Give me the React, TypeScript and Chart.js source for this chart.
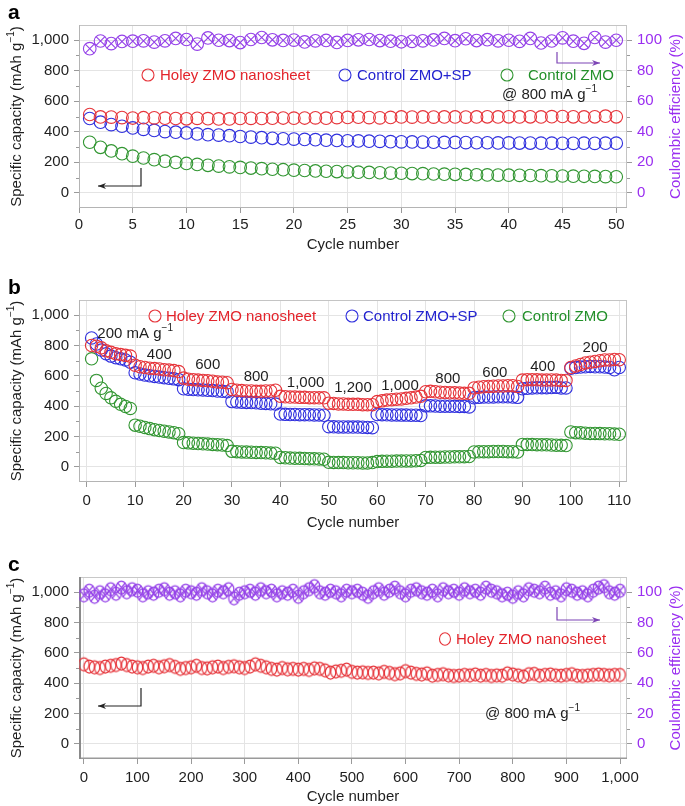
import React, { useEffect, useRef } from 'react';
import { Chart, registerables } from 'chart.js';

Chart.register(...registerables);

const FONT = '"Liberation Sans", Arial, Helvetica, sans-serif';

// ---------------- Panel a: cycling at 800 mA g-1, cycles 1..50 ----------------
const A_HOLEY = [513, 497, 496, 493, 490, 492, 491, 489, 487, 485, 488, 486, 484, 484, 487, 488, 487, 489, 490, 489, 490, 491, 489, 493, 494, 495, 493, 491, 494, 497, 496, 497, 496, 497, 497, 496, 497, 498, 497, 498, 497, 498, 497, 499, 500, 498, 497, 498, 502, 498];
const A_SP = [487, 463, 447, 436, 425, 416, 409, 401, 397, 392, 386, 381, 378, 374, 369, 365, 361, 357, 354, 352, 350, 348, 345, 343, 341, 340, 338, 337, 335, 334, 333, 332, 331, 330, 330, 329, 328, 328, 327, 327, 326, 326, 325, 325, 324, 324, 325, 324, 325, 325];
const A_ZMO = [331, 298, 274, 256, 240, 228, 217, 207, 199, 192, 186, 180, 175, 170, 166, 162, 158, 154, 151, 148, 146, 143, 141, 139, 137, 135, 133, 131, 129, 128, 126, 125, 123, 122, 121, 120, 118, 117, 116, 115, 114, 113, 112, 111, 110, 109, 108, 107, 106, 105];
const A_CE = [94.5, 99.5, 97.8, 99.2, 99.4, 99.6, 98.8, 99.6, 101.2, 100.5, 97.5, 101.5, 100.0, 99.8, 98.5, 100.5, 101.8, 100.3, 99.9, 100.1, 98.9, 99.6, 99.9, 98.6, 99.9, 100.3, 100.5, 99.8, 99.4, 99.0, 99.3, 99.6, 100.2, 101.2, 99.7, 101.0, 99.8, 100.4, 99.6, 100.0, 99.3, 101.2, 98.2, 99.5, 101.6, 99.4, 98.0, 101.8, 98.8, 100.0];
const A_X_TICKS = [0, 5, 10, 15, 20, 25, 30, 35, 40, 45, 50];

// ---------------- Panel b: rate capability, cycles 1..110 ----------------
const B_HOLEY = [
  800, 795, 785, 765, 755, 745, 740, 735, 730,
  670, 660, 655, 650, 648, 645, 640, 638, 635, 628,
  585, 578, 575, 572, 570, 568, 565, 560, 558, 555,
  510, 505, 503, 500, 500, 498, 498, 500, 500, 505,
  465, 462, 460, 460, 458, 458, 456, 456, 455, 455,
  420, 418, 415, 415, 412, 412, 412, 410, 410, 410,
  430, 435, 440, 443, 446, 448, 452, 455, 460, 465,
  495, 498, 495, 492, 490, 488, 488, 486, 485, 485,
  520, 525, 528, 530, 532, 533, 533, 535, 535, 530,
  572, 575, 575, 574, 572, 572, 573, 572, 570, 570,
  655, 665, 675, 685, 690, 695, 700, 705, 705, 708, 706,
];
const B_SP = [
  850, 810, 770, 745, 730, 720, 712, 705, 690,
  620, 612, 605, 600, 596, 592, 588, 584, 580, 575,
  515, 512, 510, 508, 507, 505, 503, 500, 498, 495,
  430, 428, 426, 425, 424, 422, 420, 418, 416, 414,
  348, 346, 345, 345, 344, 344, 343, 342, 342, 340,
  265, 264, 263, 263, 262, 262, 262, 261, 260, 258,
  345, 344, 343, 342, 342, 341, 341, 340, 340, 338,
  402, 402, 401, 400, 400, 400, 399, 398, 398, 395,
  455, 458, 460, 460, 461, 462, 462, 462, 460, 458,
  515, 518, 520, 521, 522, 522, 523, 524, 520, 520,
  650, 655, 658, 660, 662, 660, 660, 658, 655, 640, 655,
];
const B_ZMO = [
  712, 570, 518, 484, 455, 432, 412, 398, 385,
  275, 268, 260, 252, 245, 240, 235, 230, 225, 218,
  160, 158, 156, 154, 152, 150, 148, 146, 144, 140,
  102, 100, 98, 97, 96, 95, 94, 93, 91, 90,
  62, 60, 58, 57, 56, 55, 54, 53, 52, 50,
  30, 29, 28, 28, 27, 27, 27, 26, 26, 28,
  35, 36, 37, 37, 38, 38, 39, 39, 40, 42,
  62, 63, 64, 64, 65, 65, 66, 66, 67, 68,
  98, 99, 100, 100, 101, 101, 101, 100, 100, 98,
  148, 148, 147, 146, 145, 145, 144, 143, 142, 140,
  230, 225, 224, 222, 220, 220, 219, 218, 218, 216, 215,
];
const B_X_TICKS = [0, 10, 20, 30, 40, 50, 60, 70, 80, 90, 100, 110];
const B_RATE_TEXT = ['200', '400', '600', '800', '1,000', '1,200', '1,000', '800', '600', '400', '200'];

// ---------------- Panel c: long cycling, every 10th cycle 0..1000 ----------------
const C_STEP = 10;
const C_HOLEY = [
  525, 510, 505, 500, 510, 515, 520, 530, 520, 510,
  505, 500, 510, 515, 505, 512, 520, 508, 495, 500,
  505, 515, 500, 498, 505, 510, 500, 508, 512, 505,
  500, 510, 525, 515, 505, 495, 490, 500, 492, 495,
  490, 495, 488, 498, 495, 485, 470, 478, 482, 490,
  475, 470, 472, 468, 470, 465, 475, 468, 460, 465,
  480, 470, 462, 458, 465, 450, 455, 460, 452, 448,
  450, 455, 452, 458, 450, 455, 448, 452, 450, 465,
  458, 452, 445, 460, 462, 450, 455, 458, 452, 450,
  455, 460, 450, 448, 452, 455, 458, 455, 452, 455,
  455,
];
const C_CE = [
  98, 101, 97, 100, 98, 102, 99, 103, 100, 102,
  101, 98, 100, 99, 101, 102, 99, 100, 98, 101,
  100, 99, 102, 100, 98, 101, 100, 102, 96, 99,
  100, 101, 99, 102, 100, 101, 98, 100, 99, 101,
  97, 100, 102, 104, 100, 99, 101, 100, 98, 101,
  100, 101, 99, 97, 100, 102, 99, 101, 103, 100,
  98, 101, 102, 100, 99, 101, 98, 102, 100, 101,
  99, 102, 100, 101, 99, 103, 101, 100, 98, 99,
  97, 100, 98, 102, 101, 100, 103, 99, 100, 98,
  102, 101, 99, 100, 98, 101, 103, 104, 100, 99,
  101,
];
const C_X_TICKS = [0, 100, 200, 300, 400, 500, 600, 700, 800, 900, 1000];

const CAP_TICKS = [0, 200, 400, 600, 800, 1000];
const CAP_MINOR = [100, 300, 500, 700, 900];
const CE_TICKS = [0, 20, 40, 60, 80, 100];
const CE_MINOR = [10, 30, 50, 70, 90];

const SERIES_NAMES = ['Holey ZMO nanosheet', 'Control ZMO+SP', 'Control ZMO'];

// ---------------- styles ----------------
const RED = '#e6343a';
const RED_T = '#e3242b';
const BLUE = '#3030de';
const BLUE_T = '#2323cf';
const GREEN = '#329632';
const GREEN_T = '#23902a';
const PURPLE = '#9440e8';
const PURPLE_T = '#9a2ef0';
const PURPLE_ARROW = '#7d45b5';
const TXT = '#1e1e1e';
const GRID = '#e4e4e4';
const TICKC = '#9a9a9a';

type Rich = { t: string; sup?: boolean };

function drawRich(ctx: CanvasRenderingContext2D, parts: Rich[], x: number, y: number, size: number, color: string, align: 'left' | 'center' | 'right', weight = 'normal') {
  const supSize = Math.round(size * 0.68);
  const widths = parts.map((p) => {
    ctx.font = `${weight} ${p.sup ? supSize : size}px ${FONT}`;
    return ctx.measureText(p.t).width;
  });
  const total = widths.reduce((a, b) => a + b, 0);
  let cx = align === 'left' ? x : align === 'center' ? x - total / 2 : x - total;
  ctx.fillStyle = color;
  ctx.textBaseline = 'middle';
  ctx.textAlign = 'left';
  parts.forEach((p, i) => {
    ctx.font = `${weight} ${p.sup ? supSize : size}px ${FONT}`;
    ctx.fillText(p.t, cx, p.sup ? y - size * 0.36 : y);
    cx += widths[i];
  });
}

function drawArrow(ctx: CanvasRenderingContext2D, pts: number[][], color: string) {
  ctx.save();
  ctx.strokeStyle = color;
  ctx.fillStyle = color;
  ctx.lineWidth = 1.2;
  ctx.beginPath();
  ctx.moveTo(pts[0][0], pts[0][1]);
  for (let i = 1; i < pts.length; i++) ctx.lineTo(pts[i][0], pts[i][1]);
  ctx.stroke();
  const [x1, y1] = pts[pts.length - 2];
  const [x2, y2] = pts[pts.length - 1];
  const a = Math.atan2(y2 - y1, x2 - x1);
  const L = 8, W = 3;
  ctx.beginPath();
  ctx.moveTo(x2, y2);
  ctx.lineTo(x2 - L * Math.cos(a) + W * Math.sin(a), y2 - L * Math.sin(a) - W * Math.cos(a));
  ctx.lineTo(x2 - L * 0.7 * Math.cos(a), y2 - L * 0.7 * Math.sin(a));
  ctx.lineTo(x2 - L * Math.cos(a) - W * Math.sin(a), y2 - L * Math.sin(a) + W * Math.cos(a));
  ctx.closePath();
  ctx.fill();
  ctx.restore();
}

function makeMarker(w: number, h: number, color: string, cross: boolean): HTMLCanvasElement {
  const c = document.createElement('canvas');
  c.width = Math.ceil(w) + 4;
  c.height = Math.ceil(h) + 4;
  const g = c.getContext('2d')!;
  const cx = c.width / 2, cy = c.height / 2;
  g.strokeStyle = color;
  g.lineWidth = 1.25;
  g.beginPath();
  g.ellipse(cx, cy, w / 2, h / 2, 0, 0, Math.PI * 2);
  g.stroke();
  if (cross) {
    const k = Math.SQRT1_2;
    g.beginPath();
    g.moveTo(cx - (w / 2) * k, cy - (h / 2) * k);
    g.lineTo(cx + (w / 2) * k, cy + (h / 2) * k);
    g.moveTo(cx + (w / 2) * k, cy - (h / 2) * k);
    g.lineTo(cx - (w / 2) * k, cy + (h / 2) * k);
    g.stroke();
  }
  return c;
}

interface LegendItem { cx: number; cy: number; color: string; text: string; tx: number; textColor: string; w?: number; h?: number }
interface Note { parts: Rich[]; x: number; y: number; align: 'left' | 'center' | 'right'; data?: boolean }
interface Overlay {
  letter: string; letterY: number;
  leftTitleX: number;
  rightTitleX?: number;
  frameColor: string; leftColor: string; leftWidth: number; bottomColor: string; bottomWidth: number;
  rightMinor: boolean;
  legend: LegendItem[];
  notes: Note[];
  arrows: { pts: number[][]; color: string }[];
}

function makeOverlay(o: Overlay) {
  return {
    id: 'overlay' + o.letter,
    beforeDatasetsDraw(chart: any) {
      const { ctx, chartArea: ca } = chart;
      ctx.save();
      ctx.lineWidth = 1;
      ctx.strokeStyle = o.frameColor;
      ctx.beginPath();
      ctx.moveTo(ca.left, ca.top + 0.5); ctx.lineTo(ca.right, ca.top + 0.5);
      ctx.moveTo(ca.right - 0.5, ca.top); ctx.lineTo(ca.right - 0.5, ca.bottom);
      ctx.stroke();
      ctx.strokeStyle = o.bottomColor; ctx.lineWidth = o.bottomWidth;
      ctx.beginPath();
      ctx.moveTo(ca.left, ca.bottom - o.bottomWidth / 2); ctx.lineTo(ca.right, ca.bottom - o.bottomWidth / 2);
      ctx.stroke();
      ctx.strokeStyle = o.leftColor; ctx.lineWidth = o.leftWidth;
      ctx.beginPath();
      ctx.moveTo(ca.left + o.leftWidth / 2, ca.top); ctx.lineTo(ca.left + o.leftWidth / 2, ca.bottom);
      ctx.stroke();
      ctx.strokeStyle = TICKC; ctx.lineWidth = 1;
      ctx.beginPath();
      const y = chart.scales.y;
      CAP_MINOR.forEach((v) => {
        const p = Math.round(y.getPixelForValue(v)) + 0.5;
        ctx.moveTo(ca.left - 3, p); ctx.lineTo(ca.left, p);
      });
      if (o.rightMinor && chart.scales.y1) {
        const y1 = chart.scales.y1;
        CE_MINOR.forEach((v) => {
          const p = Math.round(y1.getPixelForValue(v)) + 0.5;
          ctx.moveTo(ca.right, p); ctx.lineTo(ca.right + 3, p);
        });
      }
      ctx.stroke();
      ctx.restore();
    },
    afterDraw(chart: any) {
      const { ctx, chartArea: ca } = chart;
      ctx.save();
      drawRich(ctx, [{ t: o.letter }], 8, o.letterY, 21, '#000', 'left', 'bold');
      const midY = (ca.top + ca.bottom) / 2;
      ctx.save();
      ctx.translate(o.leftTitleX, midY);
      ctx.rotate(-Math.PI / 2);
      drawRich(ctx, [{ t: 'Specific capacity (mAh g' }, { t: '−1', sup: true }, { t: ')' }], 0, 0, 15, TXT, 'center');
      ctx.restore();
      if (o.rightTitleX !== undefined) {
        ctx.save();
        ctx.translate(o.rightTitleX, midY);
        ctx.rotate(-Math.PI / 2);
        drawRich(ctx, [{ t: 'Coulombic efficiency (%)' }], 0, 0, 15, PURPLE_T, 'center');
        ctx.restore();
      }
      o.legend.forEach((l) => {
        ctx.strokeStyle = l.color;
        ctx.lineWidth = 1.1;
        ctx.beginPath();
        ctx.ellipse(l.cx, l.cy, (l.w ?? 12) / 2, (l.h ?? 12) / 2, 0, 0, Math.PI * 2);
        ctx.stroke();
        drawRich(ctx, [{ t: l.text }], l.tx, l.cy + 1, 15, l.textColor, 'left');
      });
      o.notes.forEach((n) => {
        let x = n.x, yy = n.y;
        if (n.data) {
          x = chart.scales.x.getPixelForValue(n.x);
          yy = chart.scales.y.getPixelForValue(n.y);
        }
        drawRich(ctx, n.parts, x, yy, 15, TXT, n.align);
      });
      o.arrows.forEach((a) => drawArrow(ctx, a.pts, a.color));
      ctx.restore();
    },
  };
}

function capAxis(width: number) {
  return {
    type: 'linear', position: 'left', min: -100, max: 1100,
    afterBuildTicks: (s: any) => { s.ticks = CAP_TICKS.map((v) => ({ value: v })); },
    afterFit: (s: any) => { s.width = width; },
    grid: { color: GRID, tickColor: TICKC, tickLength: 5, lineWidth: 1 },
    border: { display: false },
    ticks: { color: TXT, font: { size: 15, family: FONT }, padding: 5, callback: (v: number) => v.toLocaleString('en-US') },
  };
}

function ceAxis(width: number) {
  return {
    type: 'linear', position: 'right', min: -10, max: 110,
    afterBuildTicks: (s: any) => { s.ticks = CE_TICKS.map((v) => ({ value: v })); },
    afterFit: (s: any) => { s.width = width; },
    grid: { drawOnChartArea: false, tickColor: TICKC, tickLength: 5 },
    border: { display: false },
    ticks: { color: PURPLE_T, font: { size: 15, family: FONT }, padding: 5 },
  };
}

function xAxis(min: number, max: number, tickVals: number[], height: number, labelPad: number, titlePad: number) {
  return {
    type: 'linear', position: 'bottom', min, max,
    afterBuildTicks: (s: any) => { s.ticks = tickVals.map((v) => ({ value: v })); },
    afterFit: (s: any) => { s.height = height; },
    grid: { color: GRID, tickColor: TICKC, tickLength: 5, lineWidth: 1 },
    border: { display: false },
    ticks: { color: TXT, font: { size: 15, family: FONT }, padding: labelPad, maxRotation: 0, autoSkip: false, callback: (v: number) => v.toLocaleString('en-US') },
    title: { display: true, text: 'Cycle number', color: TXT, font: { size: 15, family: FONT }, padding: { top: 0, bottom: titlePad } },
  };
}

function circleSet(label: string, values: number[], xOf: (i: number) => number, color: string, radius: number, style: any = 'circle', axis = 'y') {
  return {
    label,
    data: values.map((v, i) => ({ x: xOf(i), y: v })),
    yAxisID: axis,
    showLine: false,
    pointStyle: style,
    pointRadius: radius,
    pointBorderWidth: 1.1,
    pointBorderColor: color,
    pointBackgroundColor: 'rgba(0,0,0,0)',
    borderColor: color,
    backgroundColor: 'rgba(0,0,0,0)',
  };
}

const commonOpts = {
  responsive: false,
  animation: false,
  events: [],
  plugins: { legend: { display: false }, tooltip: { enabled: false } },
};

function configA(): any {
  const xi = (i: number) => i + 1;
  const R = 6.3;
  return {
    type: 'scatter',
    data: {
      datasets: [
        circleSet('CE', A_CE, xi, PURPLE, R, 'circle', 'y1'),
        circleSet('CE', A_CE, xi, PURPLE, R, 'crossRot', 'y1'),
        circleSet(SERIES_NAMES[0], A_HOLEY, xi, RED, R),
        circleSet(SERIES_NAMES[1], A_SP, xi, BLUE, R),
        circleSet(SERIES_NAMES[2], A_ZMO, xi, GREEN, R),
      ],
    },
    options: {
      ...commonOpts,
      layout: { padding: { top: 25, left: 0, right: 0, bottom: 0 } },
      scales: { x: xAxis(0, 51, A_X_TICKS, 54, 3, 8), y: capAxis(79), y1: ceAxis(58) },
    },
    plugins: [makeOverlay({
      letter: 'a', letterY: 13, leftTitleX: 17, rightTitleX: 676,
      frameColor: '#c4c4c4', leftColor: '#b4b4b4', leftWidth: 1, bottomColor: '#b4b4b4', bottomWidth: 1, rightMinor: true,
      legend: [
        { cx: 148, cy: 75, color: RED, text: SERIES_NAMES[0], tx: 160, textColor: RED_T },
        { cx: 345, cy: 75, color: BLUE, text: SERIES_NAMES[1], tx: 357, textColor: BLUE_T },
        { cx: 507, cy: 75, color: GREEN, text: SERIES_NAMES[2], tx: 528, textColor: GREEN_T },
      ],
      notes: [{ parts: [{ t: '@ 800 mA g' }, { t: '−1', sup: true }], x: 502, y: 95, align: 'left' }],
      arrows: [
        { pts: [[141, 168], [141, 186], [98, 186]], color: '#222' },
        { pts: [[557, 52], [557, 63], [600, 63]], color: PURPLE_ARROW },
      ],
    })],
  };
}

function configB(): any {
  const xi = (i: number) => i + 1;
  const R = 6.2;
  const rateAt = [[10, 880], [15, 737], [25, 671], [35, 592], [45.2, 553], [55, 520], [64.7, 533], [74.6, 579], [84.3, 618], [94.2, 658], [105, 783]];
  const notes: Note[] = B_RATE_TEXT.map((t, i) => ({
    parts: i === 0 ? [{ t: t + ' mA g' }, { t: '−1', sup: true }] : [{ t }],
    x: rateAt[i][0], y: rateAt[i][1], align: 'center', data: true,
  }));
  return {
    type: 'scatter',
    data: {
      datasets: [
        circleSet(SERIES_NAMES[0], B_HOLEY, xi, RED, R),
        circleSet(SERIES_NAMES[1], B_SP, xi, BLUE, R),
        circleSet(SERIES_NAMES[2], B_ZMO, xi, GREEN, R),
      ],
    },
    options: {
      ...commonOpts,
      layout: { padding: { top: 38, left: 0, right: 58, bottom: 0 } },
      scales: { x: xAxis(-1.6, 111.6, B_X_TICKS, 58, 5, 8), y: capAxis(79) },
    },
    plugins: [makeOverlay({
      letter: 'b', letterY: 26, leftTitleX: 17,
      frameColor: '#c4c4c4', leftColor: '#b4b4b4', leftWidth: 1, bottomColor: '#b4b4b4', bottomWidth: 1, rightMinor: false,
      legend: [
        { cx: 155, cy: 54, color: RED, text: SERIES_NAMES[0], tx: 166, textColor: RED_T },
        { cx: 352, cy: 54, color: BLUE, text: SERIES_NAMES[1], tx: 363, textColor: BLUE_T },
        { cx: 509, cy: 54, color: GREEN, text: SERIES_NAMES[2], tx: 522, textColor: GREEN_T },
      ],
      notes,
      arrows: [],
    })],
  };
}

function configC(): any {
  const redMarker = makeMarker(10.5, 13, RED, false);
  const ceMarker = makeMarker(10.5, 13, PURPLE, true);
  const xi = (i: number) => i * C_STEP;
  return {
    type: 'scatter',
    data: {
      datasets: [
        circleSet('CE', C_CE, xi, PURPLE, 6, ceMarker, 'y1'),
        circleSet(SERIES_NAMES[0], C_HOLEY, xi, RED, 6, redMarker),
      ],
    },
    options: {
      ...commonOpts,
      layout: { padding: { top: 37, left: 0, right: 0, bottom: 0 } },
      scales: { x: xAxis(-9, 1013, C_X_TICKS, 47, 5, 0), y: capAxis(79), y1: ceAxis(58) },
    },
    plugins: [makeOverlay({
      letter: 'c', letterY: 25, leftTitleX: 17, rightTitleX: 676,
      frameColor: '#c8c8c8', leftColor: '#8a8a8a', leftWidth: 2, bottomColor: '#9a9a9a', bottomWidth: 1.5, rightMinor: true,
      legend: [{ cx: 445, cy: 99, color: RED, text: SERIES_NAMES[0], tx: 456, textColor: RED_T, w: 11, h: 12.5 }],
      notes: [{ parts: [{ t: '@ 800 mA g' }, { t: '−1', sup: true }], x: 485, y: 174, align: 'left' }],
      arrows: [
        { pts: [[141, 148], [141, 166], [98, 166]], color: '#222' },
        { pts: [[557, 67], [557, 80], [600, 80]], color: PURPLE_ARROW },
      ],
    })],
  };
}

export default function App() {
  const refA = useRef<HTMLCanvasElement>(null);
  const refB = useRef<HTMLCanvasElement>(null);
  const refC = useRef<HTMLCanvasElement>(null);

  useEffect(() => {
    Chart.defaults.font.family = FONT;
    const charts = [
      new Chart(refA.current!, configA()),
      new Chart(refB.current!, configB()),
      new Chart(refC.current!, configC()),
    ];
    return () => charts.forEach((c) => c.destroy());
  }, []);

  const cs = (top: number, h: number): React.CSSProperties => ({ position: 'absolute', left: 0, top, width: 685, height: h, display: 'block' });

  return (
    <div style={{ position: 'absolute', left: 0, top: 0, width: 685, height: 806, background: '#fff', overflow: 'hidden' }}>
      <canvas ref={refA} width={685} height={262} style={cs(0, 262)} />
      <canvas ref={refB} width={685} height={278} style={cs(262, 278)} />
      <canvas ref={refC} width={685} height={266} style={cs(540, 266)} />
    </div>
  );
}
